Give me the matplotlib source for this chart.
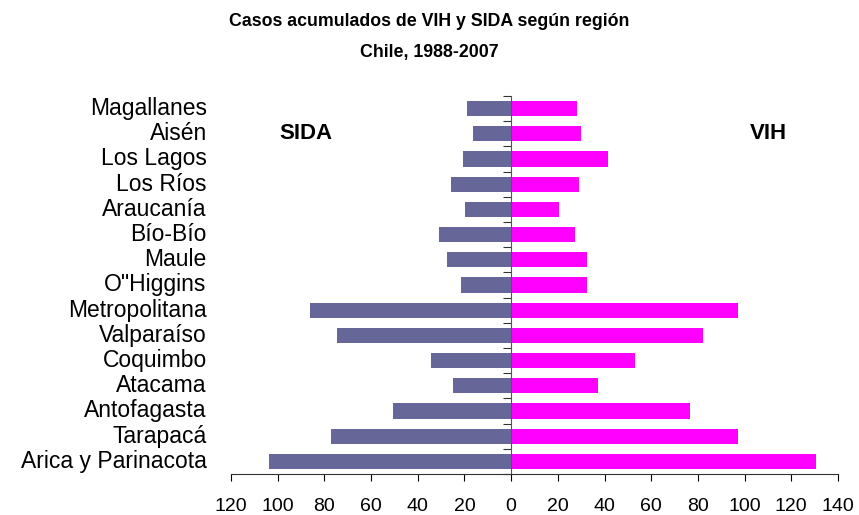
import matplotlib.pyplot as plt
import numpy as np

plt.rcParams['font.family'] = ['Liberation Sans', 'DejaVu Sans']

regiones = ['Arica y Parinacota', 'Tarapacá', 'Antofagasta', 'Atacama', 'Coquimbo',
            'Valparaíso', 'Metropolitana', 'O"Higgins', 'Maule', 'Bío-Bío',
            'Araucanía', 'Los Ríos', 'Los Lagos', 'Aisén', 'Magallanes']
sida = [103.8, 77.3, 50.4, 24.8, 34.2, 74.8, 86.3, 21.4, 27.4, 30.8, 19.7, 25.6, 20.5, 16.2, 18.8]
vih = [130.5, 97.0, 76.8, 37.3, 53.2, 82.0, 97.0, 32.6, 32.6, 27.5, 20.6, 29.2, 41.6, 30.0, 28.3]
xticks = [-120, -100, -80, -60, -40, -20, 0, 20, 40, 60, 80, 100, 120, 140]

fig = plt.figure(figsize=(8.59, 5.15), dpi=100)
ax = fig.add_axes([231/859, 1 - 474/515, (838-231)/859, (474-96)/515])

y = np.arange(len(regiones))
ax.barh(y, [-v for v in sida], height=0.6, color='#666699')
ax.barh(y, vih, height=0.6, color='#FF00FF')

ax.set_xlim(-120, 140)
ax.set_ylim(-0.5, len(regiones) - 0.5)
ax.set_xticks(xticks)
ax.set_xticklabels([str(abs(t)) for t in xticks], fontsize=14)
ax.tick_params(axis='x', direction='out', length=5, pad=12)

ax.spines['top'].set_visible(False)
ax.spines['right'].set_visible(False)
ax.spines['left'].set_position(('data', 0))
ax.spines['left'].set_color('#555555')
ax.spines['bottom'].set_color('#333333')
ax.set_yticks(np.arange(-0.5, len(regiones), 1.0))
ax.set_yticklabels([])
ax.tick_params(axis='y', direction='out', length=6, color='#333333')

for yi, name in zip(y, regiones):
    ax.text(-0.04, yi, name, transform=ax.get_yaxis_transform(),
            ha='right', va='center', fontsize=16.5)

ax.text(-88, 13, 'SIDA', fontsize=16, fontweight='bold', ha='center', va='center')
ax.text(110, 13, 'VIH', fontsize=16, fontweight='bold', ha='center', va='center')

fig.text(0.5, 1 - 22/515, 'Casos acumulados de VIH y SIDA según región',
         ha='center', va='center', fontsize=12.8, fontweight='bold')
fig.text(0.5, 1 - 53/515, 'Chile, 1988-2007',
         ha='center', va='center', fontsize=12.8, fontweight='bold')

fig.savefig('out.png', dpi=100)
